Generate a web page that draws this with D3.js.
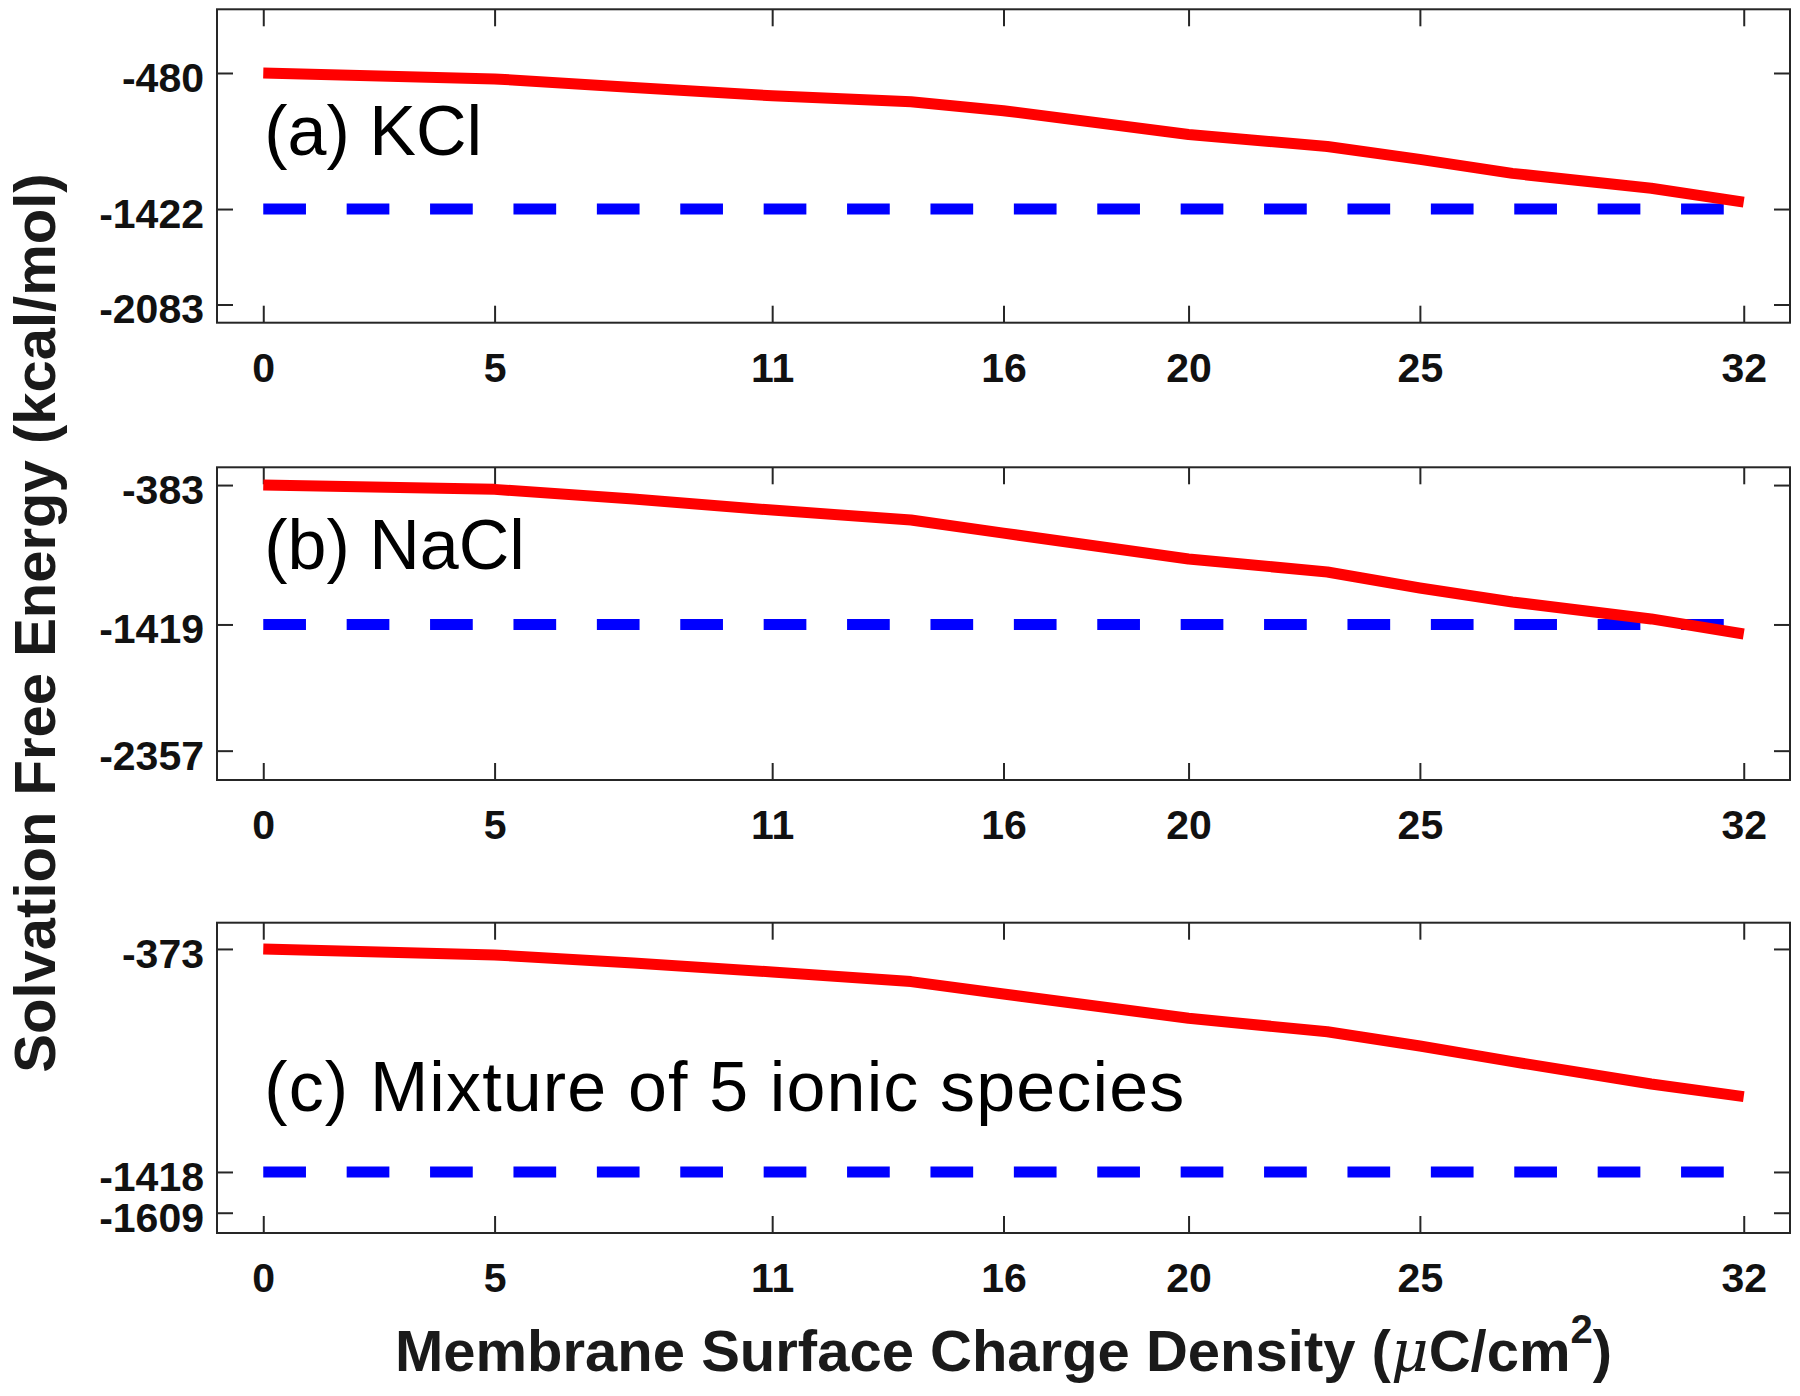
<!DOCTYPE html>
<html>
<head>
<meta charset="utf-8">
<script src="https://cdn.jsdelivr.net/npm/d3@7"></script>
<style>
  html, body { margin: 0; padding: 0; background: #fff; }
  svg { display: block; }
  text { font-family: "Liberation Sans", Arial, Helvetica, sans-serif; }
</style>
</head>
<body>
<svg id="chart" width="1800" height="1396"></svg>
<script>
// ---- data ----
const xValues   = [0, 5, 8, 11, 14, 16, 20, 23, 25, 27, 30, 32];
const kclValues = [-480, -521, -580, -638, -679, -741, -906, -989, -1078, -1175, -1278, -1374];
const naclValues = [-383, -415, -487, -569, -643, -740, -933, -1029, -1148, -1252, -1378, -1490];
const mixValues = [-373, -401, -439, -481, -526, -584, -698, -761, -828, -901, -1006, -1065];
const refValues = [-1422, -1419, -1418];
const xTicks = [0, 5, 11, 16, 20, 25, 32];
const yTicksA = [-2083, -1422, -480];
const yTicksB = [-2357, -1419, -383];
const yTicksC = [-1609, -1418, -373];
const yLimitsA = [-2209, -39];
const yLimitsB = [-2575, -251];
const yLimitsC = [-1704, -250];
const xLimits = [-1, 33];
const panelLabels = ["(a) KCl", "(b) NaCl", "(c) Mixture of 5 ionic species"];
const xTitle = "Membrane Surface Charge Density (";
const yTitle = "Solvation Free Energy (kcal/mol)";

// ---- layout ----
const svg = d3.select("#chart");
const left = 217, right = 1790;
const panels = [
  { top: 9.3,   bottom: 322.7, values: kclValues,  ref: refValues[0], ticks: yTicksA, lim: yLimitsA, label: panelLabels[0], labelDy: 146, labelLen: null },
  { top: 467.3, bottom: 780,   values: naclValues, ref: refValues[1], ticks: yTicksB, lim: yLimitsB, label: panelLabels[1], labelDy: 102, labelLen: null },
  { top: 922.7, bottom: 1233,  values: mixValues,  ref: refValues[2], ticks: yTicksC, lim: yLimitsC, label: panelLabels[2], labelDy: 188, labelLen: 920 }
];
const frameColor = "#262626";
const x = d3.scaleLinear().domain(xLimits).range([left, right]);
const fmt = d => String(d);

panels.forEach(p => {
  const y = d3.scaleLinear().domain(p.lim).range([p.bottom, p.top]);
  const g = svg.append("g");

  const bx = g.append("g").attr("transform", `translate(0,${p.bottom})`)
    .call(d3.axisBottom(x).tickValues(xTicks).tickSize(-17).tickPadding(30).tickFormat(fmt));
  const tx = g.append("g").attr("transform", `translate(0,${p.top})`)
    .call(d3.axisTop(x).tickValues(xTicks).tickSize(-17).tickFormat(""));
  const ly = g.append("g").attr("transform", `translate(${left},0)`)
    .call(d3.axisLeft(y).tickValues(p.ticks).tickSize(-16).tickPadding(13).tickFormat(fmt));
  const ry = g.append("g").attr("transform", `translate(${right},0)`)
    .call(d3.axisRight(y).tickValues(p.ticks).tickSize(-16).tickFormat(""));

  [bx, tx, ly, ry].forEach(a => {
    a.select(".domain").remove();
    a.selectAll(".tick line").attr("stroke", frameColor).attr("stroke-width", 2);
    a.selectAll(".tick text").attr("fill", "#111").attr("font-size", 41).attr("font-weight", "bold")
      .attr("font-family", '"Liberation Sans", Arial, Helvetica, sans-serif');
  });
  ly.selectAll(".tick text").attr("dy", "0.45em");

  g.append("rect").attr("x", left).attr("y", p.top)
    .attr("width", right - left).attr("height", p.bottom - p.top)
    .attr("fill", "none").attr("stroke", frameColor).attr("stroke-width", 2);

  const line = d3.line().x(d => x(d[0])).y(d => y(d[1]));
  g.append("path")
    .datum([[xValues[0], p.ref], [xValues[xValues.length - 1], p.ref]])
    .attr("d", line)
    .attr("fill", "none").attr("stroke", "#0000ff").attr("stroke-width", 11)
    .attr("stroke-dasharray", "42.7,40.7").attr("stroke-linecap", "butt");

  g.append("path")
    .datum(xValues.map((v, i) => [v, p.values[i]]))
    .attr("d", line)
    .attr("fill", "none").attr("stroke", "#ff0000").attr("stroke-width", 11)
    .attr("stroke-linejoin", "round").attr("stroke-linecap", "butt");

  const lt = g.append("text").attr("x", x(0) + 1).attr("y", p.top + p.labelDy)
    .attr("font-size", 70).attr("fill", "#000").text(p.label);
  if (p.labelLen) lt.attr("textLength", p.labelLen).attr("lengthAdjust", "spacing");
});

const xt = svg.append("text").attr("x", (left + right) / 2).attr("y", 1371)
  .attr("text-anchor", "middle").attr("font-size", 58).attr("font-weight", "bold").attr("fill", "#1a1a1a");
xt.append("tspan").text(xTitle);
xt.append("tspan").attr("font-weight", "normal").attr("font-style", "italic").attr("font-family", '"DejaVu Serif", serif').text("\u03bc");
xt.append("tspan").text("C/cm");
xt.append("tspan").attr("font-size", 40).attr("dy", -28).text("2");
xt.append("tspan").attr("dy", 28).text(")");

svg.append("text")
  .attr("transform", `translate(55,623) rotate(-90)`)
  .attr("text-anchor", "middle").attr("font-size", 58).attr("font-weight", "bold").attr("fill", "#1a1a1a")
  .text(yTitle);
</script>
</body>
</html>
